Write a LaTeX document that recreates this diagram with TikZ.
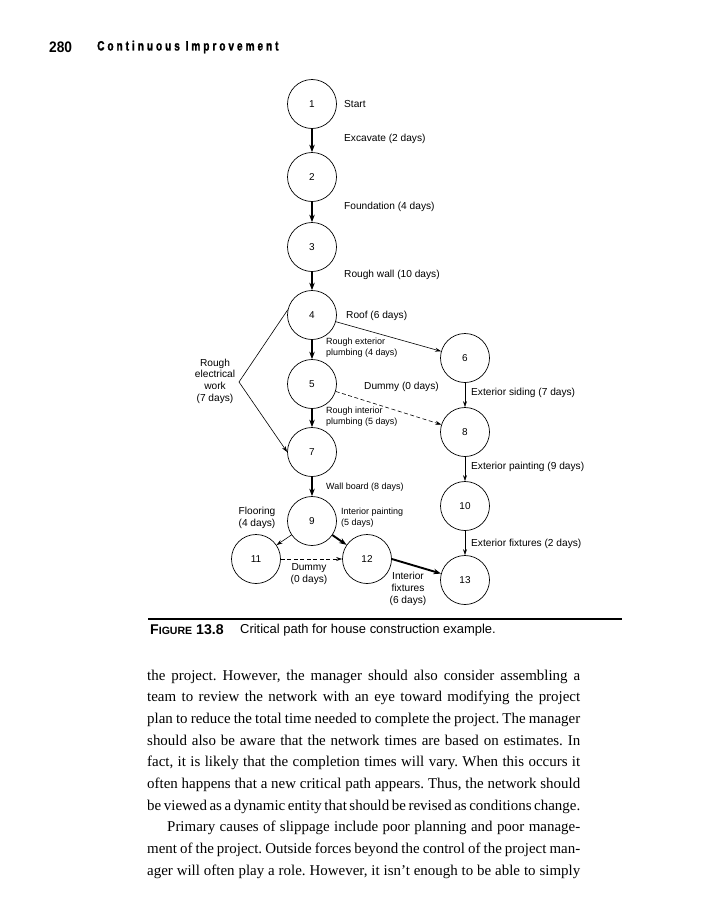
\documentclass[tikz,border=0pt]{standalone}
\usepackage{fontspec}
\setmainfont{Liberation Serif}
\newfontfamily\dsans{Liberation Sans}
\newfontfamily\headnum{Liberation Sans}[FakeStretch=0.9]
\newfontfamily\headtitle{Liberation Sans}[FakeStretch=0.75, FakeBold=1.5, LetterSpace=22]
\usetikzlibrary{arrows.meta}

\tikzset{
  event/.style={circle, draw, line width=0.7bp, minimum size=49bp, inner sep=0pt,
    font=\dsans\fontsize{10}{12}\selectfont},
  crit/.style={line width=1.9bp, -{Stealth[length=7.5bp, width=5.5bp]}},
  act/.style={line width=0.6bp, -{Stealth[length=6bp, width=4bp]}},
  dummy/.style={act, dash pattern=on 4bp off 2.5bp},
  lbl/.style={anchor=west, inner sep=0pt, font=\dsans\fontsize{10.2}{11.5}\selectfont},
  smalllbl/.style={anchor=west, inner sep=0pt, align=left, font=\dsans\fontsize{9}{11}\selectfont},
  stack/.style={inner sep=0pt, align=center, font=\dsans\fontsize{10.2}{11.7}\selectfont},
  bodyline/.style={anchor=base west, inner sep=0pt, font=\fontsize{15}{17}\selectfont}
}

\begin{document}
\frenchspacing
\begin{tikzpicture}[x=1bp, y=-1bp]
  \useasboundingbox (0,0) rectangle (715,900);

  % running head
  \node[anchor=west, inner sep=0pt, font=\headnum\bfseries\fontsize{15.3}{16}\selectfont] (pagenum) at (49,47) {280};
  \node[anchor=west, inner sep=0pt, font=\headtitle\bfseries\fontsize{13.5}{14}\selectfont] (runhead) at (97,47) {Continuous Improvement};

  % events
  \node[event] (n1) at (312,104) {1};
  \node[event] (n2) at (312,177) {2};
  \node[event] (n3) at (312,247) {3};
  \node[event] (n4) at (312,315) {4};
  \node[event] (n5) at (312,384) {5};
  \node[event] (n7) at (312,452) {7};
  \node[event] (n9) at (312,521) {9};
  \node[event] (n11) at (256,559) {11};
  \node[event] (n12) at (367,559) {12};
  \node[event] (n6) at (465,358) {6};
  \node[event] (n8) at (465,432) {8};
  \node[event] (n10) at (465,506) {10};
  \node[event] (n13) at (465,580) {13};
  \coordinate (elec) at (239,382);

  % critical path
  \draw[crit] (n1) -- (n2);
  \draw[crit] (n2) -- (n3);
  \draw[crit] (n3) -- (n4);
  \draw[crit] (n4) -- (n5);
  \draw[crit] (n5) -- (n7);
  \draw[crit] (n7) -- (n9);
  \draw[crit] (n9) -- (n12);
  \draw[crit] (n12.east) -- (n13.165);

  % other activities
  \draw[act] (n4) -- (n6);
  \draw[act] (n6) -- (n8);
  \draw[act] (n8) -- (n10);
  \draw[act] (n10) -- (n13);
  \draw[act] (n9) -- (n11);
  \draw[act] (n4.168) -- (elec) -- (n7.west);
  \draw[dummy] (n5) -- (n8);
  \draw[dummy] (n11) -- (n12);

  % activity labels
  \node[lbl] (start) at (344,104) {Start};
  \node[lbl] (excavate) at (344,139) {Excavate (2 days)};
  \node[lbl] (foundation) at (344,207) {Foundation (4 days)};
  \node[lbl] (roughwall) at (344,275) {Rough wall (10 days)};
  \node[lbl] (roof) at (346,316) {Roof (6 days)};
  \node[smalllbl] (extplumb) at (326,348) {Rough exterior\\plumbing (4 days)};
  \node[lbl] (dummyA) at (364,387) {Dummy (0 days)};
  \node[smalllbl] (intplumb) at (326,417) {Rough interior\\plumbing (5 days)};
  \node[stack] (electrical) at (215,381) {Rough\\electrical\\work\\(7 days)};
  \node[lbl] (siding) at (471,393) {Exterior siding (7 days)};
  \node[lbl] (extpaint) at (471,467) {Exterior painting (9 days)};
  \node[lbl] (extfix) at (471,544) {Exterior fixtures (2 days)};
  \node[smalllbl] (wallboard) at (326,487) {Wall board (8 days)};
  \node[stack] (flooring) at (257,518) {Flooring\\(4 days)};
  \node[smalllbl] (intpaint) at (341,518) {Interior painting\\(5 days)};
  \node[stack] (dummyB) at (309,574) {Dummy\\(0 days)};
  \node[stack] (intfix) at (408,589) {Interior\\fixtures\\(6 days)};

  % caption
  \draw[line width=1.6bp] (148,619) -- (622,619);
  \node[anchor=west, inner sep=0pt, font=\dsans\bfseries\fontsize{14.2}{15}\selectfont] (figno) at (150,630)
    {F{\fontsize{10.6}{11}\selectfont IGURE} 13.8};
  \node[anchor=west, inner sep=0pt, font=\dsans\fontsize{13}{14}\selectfont] (caption) at (240,630)
    {Critical path for house construction example.};

  % body text
  \node[bodyline] (p1) at (147,680) {\makebox[433bp][s]{the project. However, the manager should also consider assembling a}};
  \node[bodyline] (p2) at (147,701.7) {\makebox[433bp][s]{team to review the network with an eye toward modifying the project}};
  \node[bodyline] (p3) at (147,723.3) {\makebox[433bp][s]{plan to reduce the total time needed to complete the project. The manager}};
  \node[bodyline] (p4) at (147,745) {\makebox[433bp][s]{should also be aware that the network times are based on estimates. In}};
  \node[bodyline] (p5) at (147,766.7) {\makebox[433bp][s]{fact, it is likely that the completion times will vary. When this occurs it}};
  \node[bodyline] (p6) at (147,788.3) {\makebox[433bp][s]{often happens that a new critical path appears. Thus, the network should}};
  \node[bodyline] (p7) at (147,810) {\makebox[433bp][s]{be viewed as a dynamic entity that should be revised as conditions change.}};
  \node[bodyline] (p8) at (167,831.7) {\makebox[413bp][s]{Primary causes of slippage include poor planning and poor manage-}};
  \node[bodyline] (p9) at (147,853.3) {\makebox[433bp][s]{ment of the project. Outside forces beyond the control of the project man-}};
  \node[bodyline] (p10) at (147,875) {\makebox[433bp][s]{ager will often play a role. However, it isn’t enough to be able to simply}};
\end{tikzpicture}
\end{document}
